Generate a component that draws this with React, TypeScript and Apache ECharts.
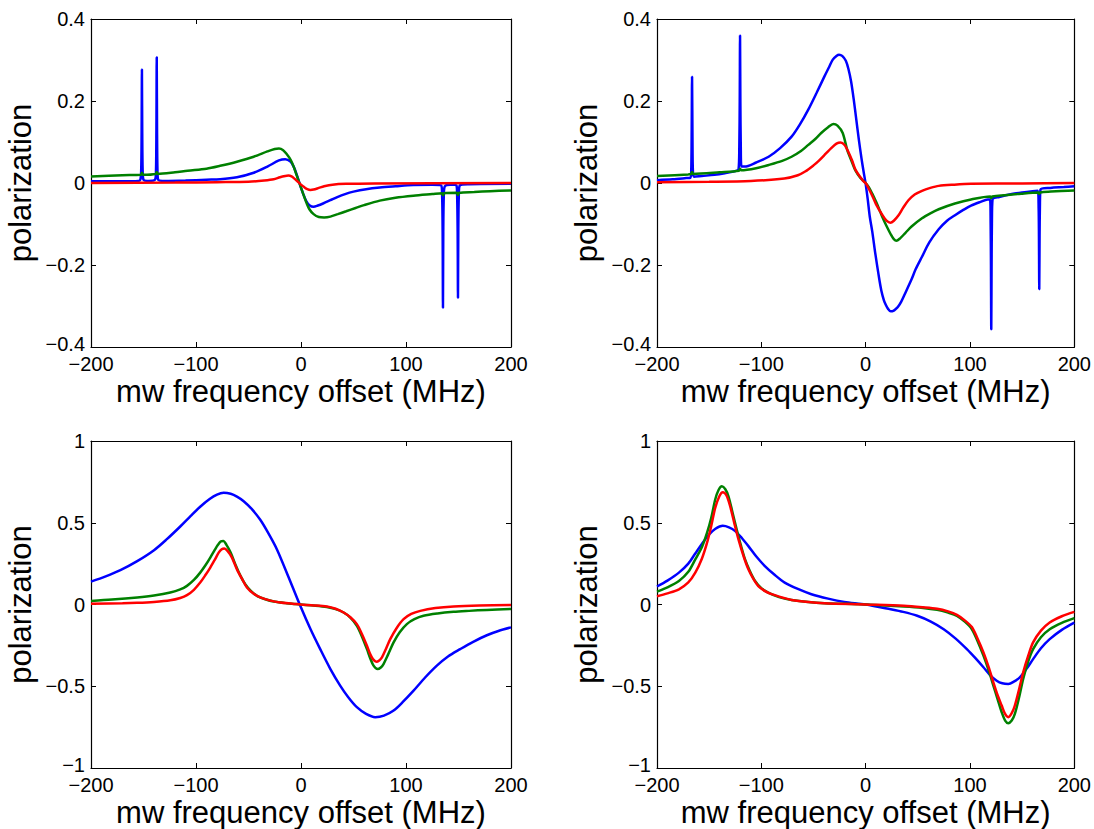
import React, { useEffect, useRef } from "react";
import * as echarts from "echarts";

// ---------- Data ----------
// Panel A (top-left)
const aBlue: [number, number][] = [
  [-200, 0.004], [-170, 0.004], [-155, 0.005], [-153, 0.008], [-152.2, 0.03], [-151.8, 0.12], [-151.5, 0.277],
  [-151.2, 0.12], [-150.8, 0.03], [-150, 0.008], [-145, 0.005], [-139, 0.008], [-138.1, 0.03], [-137.7, 0.13],
  [-137.4, 0.307], [-137.1, 0.13], [-136.7, 0.03], [-136, 0.008], [-130, 0.005], [-110, 0.006], [-90, 0.008],
  [-77, 0.009], [-61, 0.014], [-45, 0.025], [-32, 0.04], [-21, 0.055], [-15, 0.058], [-10, 0.052], [-7, 0.04],
  [-4, 0.02], [-1, -0.004], [2, -0.026], [5, -0.044], [8, -0.054], [12, -0.058], [16, -0.055], [21, -0.05],
  [28, -0.042], [34, -0.035], [42, -0.027], [50, -0.021], [62, -0.015], [75, -0.011], [90, -0.008], [107, -0.005],
  [125, -0.004], [133.5, -0.006], [134.4, -0.03], [134.9, -0.12], [135.2, -0.304], [135.5, -0.12], [136, -0.03],
  [137, -0.008], [142, -0.004], [148, -0.006], [148.7, -0.03], [149.2, -0.12], [149.5, -0.28], [149.8, -0.12],
  [150.3, -0.03], [151.2, -0.006], [160, -0.003], [200, -0.002],
];
const aGreen: [number, number][] = [
  [-200, 0.016], [-170, 0.019], [-152.5, 0.02], [-151.5, 0.025], [-150.5, 0.02], [-138.4, 0.022], [-137.4, 0.027],
  [-136.4, 0.022], [-120, 0.026], [-108, 0.03], [-90, 0.035], [-77, 0.042], [-61, 0.052], [-45, 0.064], [-32, 0.077],
  [-25, 0.083], [-21, 0.084], [-17, 0.08], [-13.5, 0.07], [-10, 0.057], [-7, 0.04], [-4, 0.018], [-1, -0.004],
  [2, -0.026], [5, -0.047], [8, -0.064], [12, -0.076], [17, -0.083], [22, -0.084], [28, -0.082], [35, -0.076],
  [43, -0.069], [52, -0.061], [60, -0.054], [75, -0.043], [90, -0.036], [107, -0.031], [125, -0.027], [134.2, -0.025],
  [135.2, -0.03], [136.2, -0.025], [148.5, -0.024], [149.5, -0.029], [150.5, -0.024], [165, -0.022], [180, -0.02],
  [200, -0.018],
];
const aRed: [number, number][] = [
  [-200, 0.0], [-120, 0.001], [-80, 0.002], [-50, 0.003], [-35, 0.006], [-26, 0.009], [-20, 0.014], [-15, 0.017],
  [-12, 0.018], [-9, 0.016], [-6, 0.01], [-3, 0.003], [0, -0.004], [3, -0.01], [6, -0.015], [9, -0.017], [12, -0.016],
  [17, -0.012], [22, -0.008], [30, -0.004], [43, -0.002], [70, -0.001], [200, 0.0],
];

// Panel B (top-right)
const bBlue: [number, number][] = [
  [-200, 0.007], [-185, 0.009], [-172, 0.012], [-168, 0.013], [-167.2, 0.03], [-166.8, 0.11], [-166.4, 0.259],
  [-166, 0.11], [-165.6, 0.03], [-164.5, 0.015], [-157, 0.017], [-145, 0.02], [-135, 0.024], [-125, 0.029],
  [-121.8, 0.034], [-121.1, 0.09], [-120.7, 0.2], [-120.4, 0.36], [-120.1, 0.2], [-119.7, 0.09], [-119, 0.04],
  [-116, 0.04], [-105, 0.05], [-93, 0.064], [-82, 0.085], [-71, 0.113], [-63, 0.143], [-55, 0.179], [-47, 0.22],
  [-39.5, 0.26], [-35, 0.283], [-31.5, 0.301], [-28, 0.31], [-25.5, 0.313], [-22.5, 0.31], [-19, 0.298],
  [-16.5, 0.278], [-14, 0.248], [-11.5, 0.205], [-9, 0.155], [-6.5, 0.105], [-4, 0.06], [-2, 0.028], [0, -0.002],
  [2, -0.04], [4, -0.083], [6.3, -0.118], [9.3, -0.173], [12.7, -0.229], [15, -0.262], [17.5, -0.286],
  [19.5, -0.298], [21.5, -0.307], [24, -0.313], [26.5, -0.312], [29, -0.307], [31, -0.302], [34, -0.29],
  [37.7, -0.27], [44, -0.235], [48, -0.21], [54, -0.18], [61, -0.145], [70, -0.113], [78, -0.092],
  [86, -0.078], [94, -0.065], [101, -0.055], [110, -0.046], [117, -0.04], [119.2, -0.04], [119.8, -0.1],
  [120.1, -0.2], [120.4, -0.357], [120.7, -0.2], [121, -0.1], [121.6, -0.04], [128, -0.034], [140, -0.027],
  [150, -0.023], [160, -0.02], [165, -0.019], [165.8, -0.06], [166.1, -0.13], [166.4, -0.259], [166.7, -0.13],
  [167, -0.06], [167.6, -0.016], [177, -0.012], [190, -0.01], [200, -0.008],
];
const bGreen: [number, number][] = [
  [-200, 0.017], [-170, 0.021], [-167.4, 0.022], [-166.4, 0.027], [-165.4, 0.022], [-140, 0.026], [-121.4, 0.03],
  [-120.4, 0.035], [-119.4, 0.031], [-105, 0.036], [-93, 0.044], [-80, 0.054], [-71, 0.064], [-62, 0.078],
  [-55, 0.093], [-48, 0.108], [-42.6, 0.122], [-36, 0.136], [-31, 0.144], [-27, 0.14], [-22, 0.122], [-17.6, 0.08],
  [-13, 0.05], [-9.7, 0.03], [-5, 0.012], [0, 0.0], [3, -0.01], [6.3, -0.026], [10, -0.046], [12.7, -0.062],
  [16, -0.083], [20, -0.105], [24, -0.125], [27, -0.137], [29.5, -0.141], [33, -0.135], [38, -0.122], [44, -0.106],
  [54, -0.086], [62, -0.074], [70, -0.064], [85.6, -0.05], [101, -0.04], [119.5, -0.033], [120.4, -0.037],
  [121.3, -0.033], [149, -0.026], [165.5, -0.023], [166.4, -0.027], [167.3, -0.023], [177.6, -0.021], [200, -0.018],
];
const bRed: [number, number][] = [
  [-200, 0.002], [-150, 0.003], [-110, 0.005], [-78, 0.011], [-65, 0.019], [-58, 0.028], [-50, 0.043], [-45, 0.054],
  [-38, 0.072], [-33, 0.085], [-28, 0.096], [-24, 0.099], [-20, 0.092], [-17, 0.078], [-13, 0.055], [-9.7, 0.032],
  [-5, 0.014], [-1.7, 0.003], [0, 0.0], [3, -0.014], [6.3, -0.031], [10, -0.052], [16, -0.078], [20, -0.092],
  [23.7, -0.097], [27, -0.092], [31.7, -0.078], [36, -0.06], [41, -0.042], [47, -0.028], [54, -0.019], [62, -0.012],
  [70, -0.007], [85, -0.004], [101, -0.002], [150, -0.001], [200, 0.0],
];

// Panel C (bottom-left)
const cBlue: [number, number][] = [
  [-200, 0.14], [-186, 0.172], [-172, 0.21], [-156, 0.265], [-140, 0.332], [-128, 0.398], [-115, 0.477],
  [-105, 0.542], [-96, 0.598], [-87, 0.645], [-80, 0.672], [-73.7, 0.683], [-67, 0.677], [-61, 0.66],
  [-54.6, 0.632], [-47, 0.585], [-38.8, 0.518], [-31, 0.435], [-22.9, 0.337], [-12, 0.17], [-0.7, -0.008],
  [9, -0.15], [18.3, -0.273], [28, -0.395], [37.3, -0.496], [45, -0.567], [53.2, -0.628], [62, -0.669],
  [70.7, -0.689], [79, -0.68], [88.2, -0.649], [97, -0.596], [107.2, -0.527], [118, -0.448], [129.4, -0.374],
  [140, -0.318], [151.6, -0.273], [164, -0.228], [177, -0.188], [188, -0.162], [200, -0.14],
];
const cGreen: [number, number][] = [
  [-200, 0.022], [-180, 0.03], [-156, 0.043], [-140, 0.055], [-124.5, 0.073], [-115, 0.092], [-108.6, 0.114],
  [-102, 0.15], [-96, 0.195], [-91, 0.24], [-86.4, 0.287], [-82, 0.335], [-79.4, 0.362], [-76.5, 0.385],
  [-74, 0.388], [-71, 0.365], [-67, 0.318], [-62.6, 0.246], [-58, 0.18], [-53.1, 0.124], [-48, 0.085],
  [-42, 0.053], [-34, 0.032], [-26, 0.018], [-14, 0.008], [0, 0.0], [12, -0.006], [24.6, -0.015], [33, -0.028],
  [40.6, -0.049], [47, -0.08], [53.2, -0.13], [58, -0.195], [62.8, -0.273], [66, -0.33], [69.1, -0.374],
  [72.9, -0.395], [76, -0.385], [78.6, -0.364], [83, -0.305], [88.2, -0.232], [94, -0.17], [100.8, -0.12],
  [108, -0.09], [116.7, -0.069], [130, -0.055], [145.3, -0.045], [160, -0.039], [177, -0.033], [200, -0.027],
];
const cRed: [number, number][] = [
  [-200, 0.004], [-170, 0.007], [-156, 0.01], [-140, 0.016], [-124.5, 0.026], [-115, 0.04], [-108.6, 0.057],
  [-102, 0.09], [-96, 0.134], [-91, 0.18], [-86.4, 0.226], [-82, 0.275], [-78.4, 0.317], [-75.5, 0.338],
  [-73, 0.343], [-70, 0.328], [-66, 0.29], [-61, 0.215], [-56, 0.155], [-51.5, 0.104], [-45, 0.065],
  [-38.8, 0.043], [-30, 0.025], [-19.8, 0.012], [-8, 0.005], [0, 0.0], [10, -0.005], [24.6, -0.012], [33, -0.026],
  [40.6, -0.049], [47, -0.078], [53.2, -0.12], [58, -0.18], [62.8, -0.252], [66, -0.305], [68.5, -0.334],
  [71.7, -0.35], [74.5, -0.342], [77.1, -0.323], [81, -0.27], [85, -0.212], [91, -0.145], [97.7, -0.09],
  [105, -0.058], [113.6, -0.039], [128, -0.022], [145.3, -0.012], [170, -0.006], [200, -0.003],
];

// Panel D (bottom-right)
const dBlue: [number, number][] = [
  [-200, 0.11], [-190, 0.146], [-179, 0.195], [-170, 0.25], [-163.3, 0.312], [-157, 0.37], [-150.5, 0.425],
  [-144, 0.463], [-137, 0.481], [-131, 0.472], [-125, 0.449], [-118.5, 0.405], [-112.4, 0.357], [-105, 0.295],
  [-96.6, 0.235], [-87, 0.18], [-77.6, 0.134], [-65, 0.095], [-52, 0.063], [-36, 0.036], [-20.5, 0.016], [0, 0.0],
  [24, -0.029], [36, -0.045], [49.4, -0.069], [62, -0.103], [74.8, -0.151], [86, -0.207], [97, -0.273],
  [105, -0.327], [112.9, -0.384], [119, -0.43], [125.6, -0.466], [131, -0.482], [136.7, -0.486], [142, -0.472],
  [147.8, -0.445], [154, -0.395], [160.5, -0.334], [168, -0.268], [176.4, -0.212], [188, -0.155], [200, -0.111],
];
const dGreen: [number, number][] = [
  [-200, 0.079], [-190, 0.105], [-179, 0.144], [-170, 0.2], [-163.3, 0.276], [-157, 0.35], [-152, 0.439],
  [-148, 0.53], [-144.2, 0.642], [-141, 0.7], [-137.8, 0.723], [-134.5, 0.705], [-131.5, 0.662], [-127.5, 0.56],
  [-123.6, 0.459], [-119.5, 0.36], [-115.6, 0.276], [-111, 0.205], [-106, 0.144], [-100, 0.1], [-93.4, 0.073],
  [-83, 0.045], [-71, 0.028], [-55, 0.015], [-39.5, 0.008], [0, 0.0], [36.7, -0.012], [55, -0.021], [68.5, -0.033],
  [79, -0.05], [87.5, -0.069], [95, -0.105], [101.8, -0.151], [107, -0.22], [112.9, -0.313], [118, -0.405],
  [122.4, -0.496], [126.5, -0.58], [130.4, -0.659], [133.7, -0.71], [136.7, -0.726], [140, -0.71], [143, -0.669],
  [147, -0.57], [151, -0.455], [156, -0.345], [160.5, -0.273], [168, -0.2], [176.4, -0.151], [188, -0.112],
  [200, -0.083],
];
const dRed: [number, number][] = [
  [-200, 0.05], [-190, 0.068], [-179, 0.093], [-170, 0.135], [-163.3, 0.195], [-157, 0.28], [-152, 0.378],
  [-148, 0.48], [-144.2, 0.591], [-140, 0.665], [-137, 0.687], [-133.5, 0.668], [-129.9, 0.601], [-126, 0.5],
  [-121.9, 0.398], [-117, 0.295], [-112.4, 0.215], [-107.5, 0.155], [-102.9, 0.113], [-96, 0.08], [-90.2, 0.063],
  [-80, 0.043], [-71, 0.028], [-55, 0.015], [-39.5, 0.008], [0, 0.0], [36.7, -0.008], [55, -0.017], [68.5, -0.026],
  [79, -0.042], [87.5, -0.063], [95, -0.097], [101.8, -0.138], [107, -0.205], [112.9, -0.293], [118, -0.385],
  [122.4, -0.476], [126.5, -0.555], [130.4, -0.618], [133.5, -0.668], [136.7, -0.689], [140, -0.665], [143, -0.618],
  [147, -0.52], [151, -0.415], [156, -0.31], [160.5, -0.232], [168, -0.16], [176.4, -0.11], [188, -0.072],
  [200, -0.045],
];

// Axis ranges
const X_RANGE = { min: -200, max: 200, interval: 100 };
const Y_RANGE_TOP = { min: -0.4, max: 0.4, interval: 0.2 };
const Y_RANGE_BOTTOM = { min: -1, max: 1, interval: 0.5 };

const X_LABEL = "mw frequency offset (MHz)";
const Y_LABEL = "polarization";
const COLORS = ["#0000ff", "#008000", "#ff0000"];

const PANELS = [
  { left: 91, top: 19, yr: Y_RANGE_TOP, curves: [aBlue, aGreen, aRed] },
  { left: 657, top: 19, yr: Y_RANGE_TOP, curves: [bBlue, bGreen, bRed] },
  { left: 91, top: 441, yr: Y_RANGE_BOTTOM, curves: [cBlue, cGreen, cRed] },
  { left: 657, top: 441, yr: Y_RANGE_BOTTOM, curves: [dBlue, dGreen, dRed] },
];

const FONT = '"Liberation Sans", Arial, Helvetica, sans-serif';
const PW = 420;
const PH = 328;

function fmt(v: number): string {
  const r = Math.round(v * 1000) / 1000;
  return String(r).replace("-", "\u2212");
}

export default function App() {
  const ref = useRef<HTMLDivElement>(null);
  useEffect(() => {
    if (!ref.current) return;
    const chart = echarts.init(ref.current, undefined, { renderer: "svg" });
    const axisLine = { show: true, onZero: false, lineStyle: { color: "#000", width: 1.2 } };
    const axisTick = { show: true, inside: true, length: 5, lineStyle: { color: "#000", width: 1 } };
    const grid: any[] = [];
    const xAxis: any[] = [];
    const yAxis: any[] = [];
    const series: any[] = [];
    PANELS.forEach((p, i) => {
      grid.push({ left: p.left, top: p.top, width: PW, height: PH, containLabel: false });
      xAxis.push({
        type: "value", gridIndex: i, position: "bottom", ...X_RANGE,
        axisLine, axisTick, splitLine: { show: false },
        axisLabel: { show: true, margin: 9, fontSize: 20, lineHeight: 16, color: "#000", fontFamily: FONT, formatter: fmt, showMinLabel: true, showMaxLabel: true, hideOverlap: false },
        name: X_LABEL, nameLocation: "middle", nameGap: 29,
        nameTextStyle: { fontSize: 31, color: "#000", fontFamily: FONT },
      });
      xAxis.push({
        type: "value", gridIndex: i, position: "top", ...X_RANGE,
        axisLine, axisTick, splitLine: { show: false }, axisLabel: { show: false },
      });
      const yMin = p.yr.min;
      yAxis.push({
        type: "value", gridIndex: i, position: "left", ...p.yr,
        axisLine, axisTick, splitLine: { show: false },
        axisLabel: {
          show: true, margin: 6, fontSize: 20, lineHeight: 16, color: "#000", fontFamily: FONT,
          formatter: (v: number) => (Math.abs(v - yMin) < 1e-9 ? "{lo|" + fmt(v) + "}" : fmt(v)),
          rich: { lo: { fontSize: 20, lineHeight: 16, color: "#000", fontFamily: FONT, padding: [0, 0, 6, 0] } },
          showMinLabel: true, showMaxLabel: true, hideOverlap: false,
        },
        name: Y_LABEL, nameLocation: "middle", nameGap: 55, nameRotate: 90,
        nameTextStyle: { fontSize: 31, color: "#000", fontFamily: FONT },
      });
      yAxis.push({
        type: "value", gridIndex: i, position: "right", ...p.yr,
        axisLine, axisTick, splitLine: { show: false }, axisLabel: { show: false },
      });
      p.curves.forEach((data, k) => {
        series.push({
          type: "line", xAxisIndex: 2 * i, yAxisIndex: 2 * i, data,
          showSymbol: false, symbol: "none", smooth: 0.3, clip: true,
          lineStyle: { color: COLORS[k], width: 2.5 }, itemStyle: { color: COLORS[k] },
        });
      });
    });
    chart.setOption({
      animation: false,
      backgroundColor: "#ffffff",
      grid, xAxis, yAxis, series,
    });
    return () => chart.dispose();
  }, []);
  return (
    <div style={{ position: "absolute", left: 0, top: 0, width: 1094, height: 829, background: "#fff" }}>
      <div ref={ref} style={{ width: 1094, height: 829 }} />
    </div>
  );
}
